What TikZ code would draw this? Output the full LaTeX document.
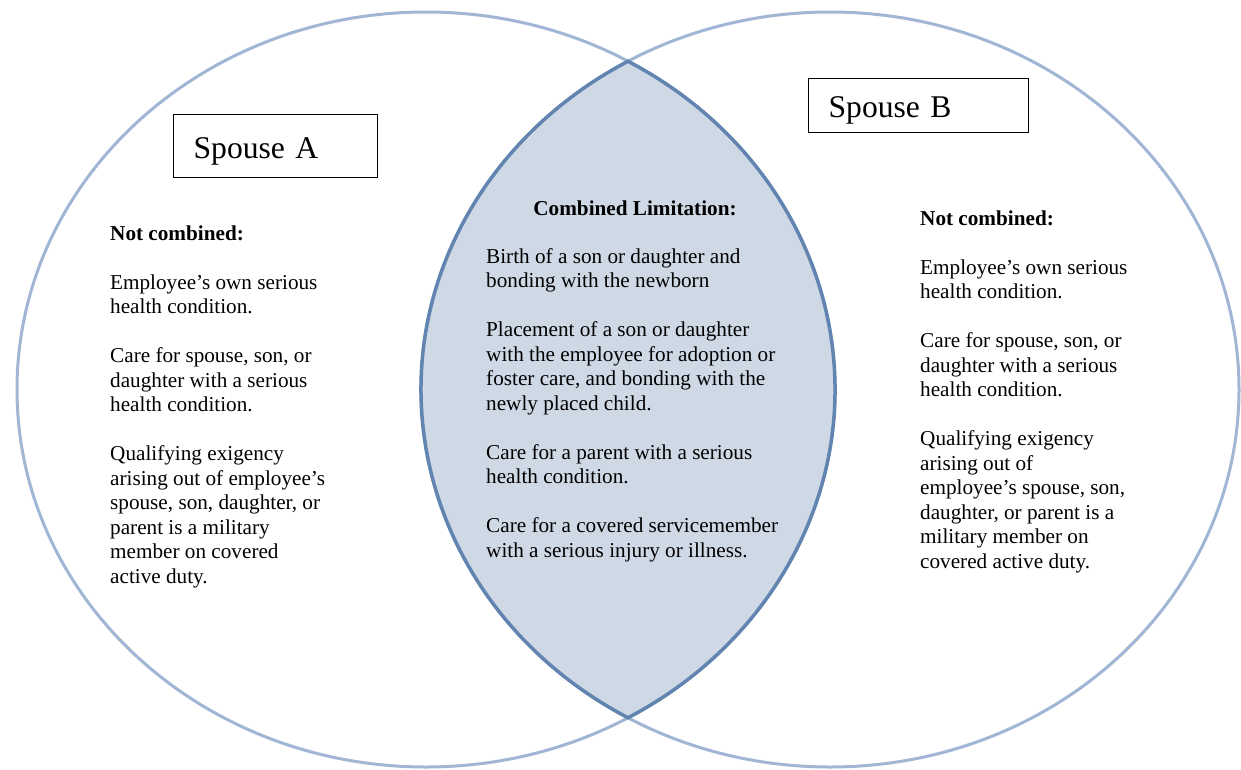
\documentclass[tikz,border=0pt]{standalone}
\usepackage{fontspec}
\setmainfont{Liberation Serif}
\definecolor{ringline}{RGB}{160,182,212}
\definecolor{lensline}{RGB}{98,132,176}
\definecolor{lensfill}{RGB}{207,217,230}
\begin{document}
\begin{tikzpicture}[x=1pt,y=-1pt,
  ring/.style={draw=ringline,line width=3pt},
  lens/.style={fill=lensfill,draw=lensline,line width=3.5pt},
  spousebox/.style={draw=black,line width=1.3pt,fill=white,anchor=north west,inner xsep=20pt,inner ysep=0pt,align=left,
    font=\fontsize{31.6}{36}\selectfont,text height=26pt,text depth=2pt},
  coltext/.style={anchor=north west,inner sep=0pt,align=left,font=\fontsize{21.2}{24.5}\selectfont},
  headtext/.style={anchor=base,inner sep=0pt,font=\fontsize{21.2}{24.5}\selectfont\bfseries}]
\useasboundingbox (0,0) rectangle (1241,769);
\fill[white] (0,0) rectangle (1241,769);
% circles
\draw[ring] (426,389.5) ellipse[x radius=409,y radius=377.5];
\draw[ring] (830,389.5) ellipse[x radius=409,y radius=377.5];
% overlap
\path[lens] (628,61.3) arc[start angle=-60.40,end angle=60.40,x radius=409,y radius=377.5]
  arc[start angle=119.60,end angle=240.40,x radius=409,y radius=377.5] -- cycle;
% titles
\node[spousebox,text width=164pt,minimum height=63pt] (spa) at (173,114) {Spouse A};
\node[spousebox,text width=180pt,minimum height=54pt] (spb) at (808,78) {Spouse B};
% left column
\node[coltext] (leftcol) at (110,225) {\rule{0pt}{15pt}\textbf{Not combined:}\\[24.5pt]
Employee’s own serious\\
health condition.\\[24.5pt]
Care for spouse, son, or\\
daughter with a serious\\
health condition.\\[24.5pt]
Qualifying exigency\\
arising out of employee’s\\
spouse, son, daughter, or\\
parent is a military\\
member on covered\\
active duty.};
% centre
\node[headtext] (midhead) at (635,215) {Combined Limitation:};
\node[coltext] (midcol) at (486,248) {\rule{0pt}{15pt}Birth of a son or daughter and\\
bonding with the newborn\\[24.5pt]
Placement of a son or daughter\\
with the employee for adoption or\\
foster care, and bonding with the\\
newly placed child.\\[24.5pt]
Care for a parent with a serious\\
health condition.\\[24.5pt]
Care for a covered servicemember\\
with a serious injury or illness.};
% right column
\node[coltext] (rightcol) at (920,210) {\rule{0pt}{15pt}\textbf{Not combined:}\\[24.5pt]
Employee’s own serious\\
health condition.\\[24.5pt]
Care for spouse, son, or\\
daughter with a serious\\
health condition.\\[24.5pt]
Qualifying exigency\\
arising out of\\
employee’s spouse, son,\\
daughter, or parent is a\\
military member on\\
covered active duty.};
\end{tikzpicture}
\end{document}
